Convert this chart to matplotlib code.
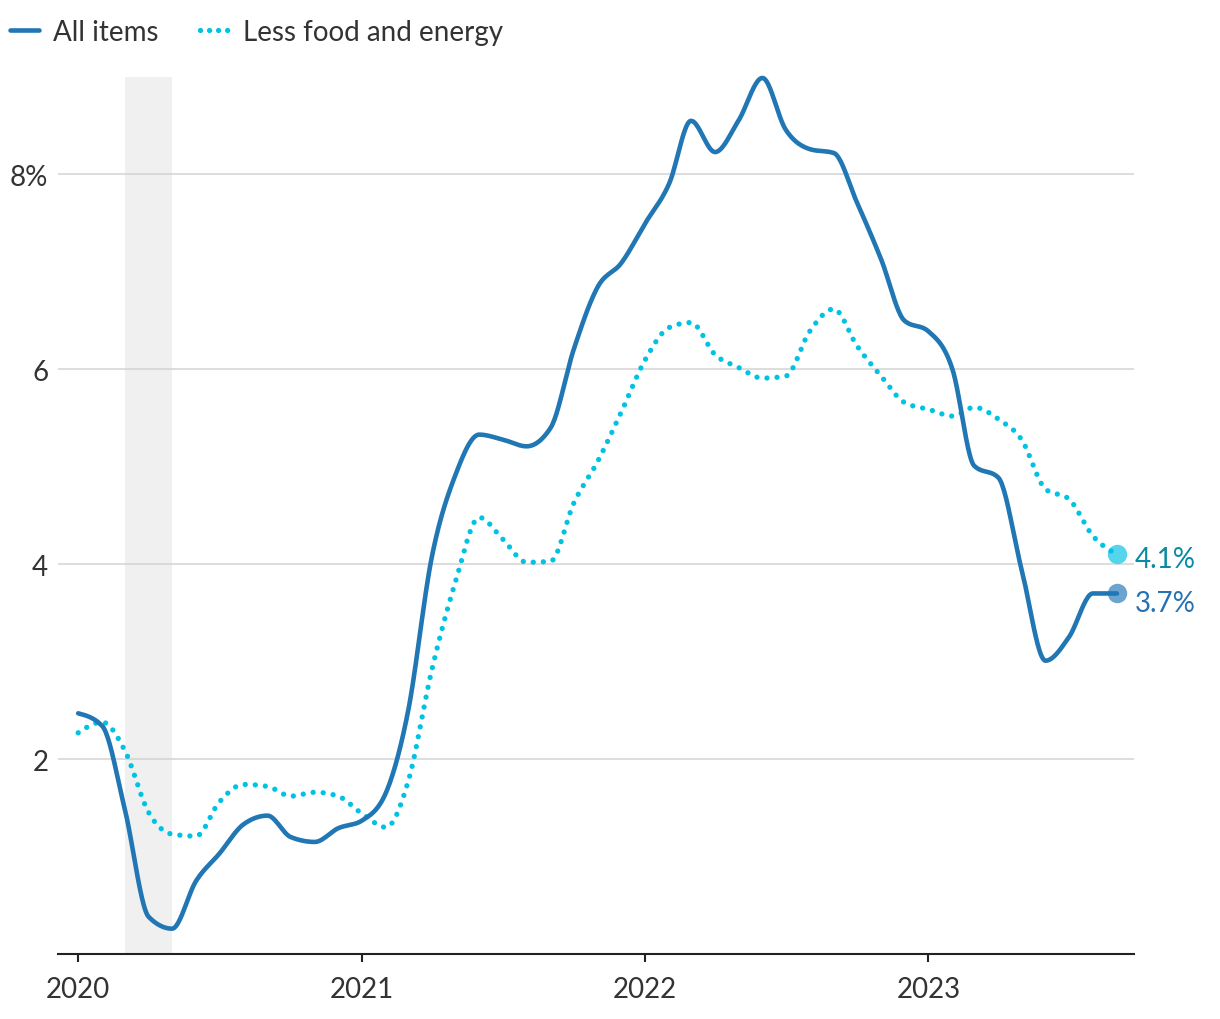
import matplotlib
matplotlib.use('Agg')  # no display
import matplotlib.pyplot as plt
import matplotlib.dates as mdates
from matplotlib.lines import Line2D
import numpy as np
import pandas as pd

plt.rcParams['font.family'] = ['Lato', 'DejaVu Sans']

# monthly 12-month % change, Jan 2020 - Sep 2023
months = pd.date_range('2020-01-01', '2023-09-01', freq='MS')
all_items = [2.47, 2.34, 1.49, 0.38, 0.26, 0.75, 1.03, 1.33, 1.42, 1.20, 1.15, 1.29,
             1.37, 1.66, 2.48, 4.08, 4.91, 5.33, 5.28, 5.21, 5.40, 6.21, 6.85, 7.09,
             7.50, 7.91, 8.55, 8.23, 8.55, 8.99, 8.46, 8.26, 8.22, 7.71, 7.13, 6.50,
             6.39, 6.00, 5.01, 4.89, 3.95, 3.01, 3.25, 3.70, 3.70]
core = [2.27, 2.38, 2.09, 1.45, 1.23, 1.21, 1.56, 1.74, 1.72, 1.62, 1.66, 1.62,
        1.44, 1.30, 1.76, 2.92, 3.81, 4.48, 4.26, 4.02, 4.03, 4.63, 5.06, 5.56,
        6.10, 6.43, 6.48, 6.15, 6.02, 5.91, 5.93, 6.39, 6.62, 6.24, 5.93, 5.66,
        5.59, 5.52, 5.61, 5.49, 5.28, 4.77, 4.67, 4.29, 4.10]
series_names = ['All items', 'Less food and energy']
recession = ['2020-03-01', '2020-05-01']
y_ticks = [2, 4, 6, 8]
y_labels = ['2', '4', '6', '8%']
year_ticks = pd.to_datetime(['2020-01-01', '2021-01-01', '2022-01-01', '2023-01-01'])

BLUE = '#2176b4'
CYAN = '#00c2e3'
FS = 20


def monotone_x(x, y, n=24):
    # monotone cubic interpolation (same idea as d3.curveMonotoneX)
    x = np.asarray(x, float)
    y = np.asarray(y, float)
    h = np.diff(x)
    s = np.diff(y) / h
    t = np.zeros_like(y)
    sgn = lambda v: -1.0 if v < 0 else 1.0
    for i in range(1, len(y) - 1):
        p = (s[i - 1] * h[i] + s[i] * h[i - 1]) / (h[i - 1] + h[i])
        t[i] = (sgn(s[i - 1]) + sgn(s[i])) * min(abs(s[i - 1]), abs(s[i]), 0.5 * abs(p))
    t[0] = (3 * s[0] - t[1]) / 2
    t[-1] = (3 * s[-1] - t[-2]) / 2
    xs, ys = [], []
    for i in range(len(h)):
        u = np.linspace(0, 1, n, endpoint=(i == len(h) - 1))
        h00 = 2 * u**3 - 3 * u**2 + 1
        h10 = u**3 - 2 * u**2 + u
        h01 = -2 * u**3 + 3 * u**2
        h11 = u**3 - u**2
        xs.append(x[i] + u * h[i])
        ys.append(h00 * y[i] + h10 * h[i] * t[i] + h01 * y[i + 1] + h11 * h[i] * t[i + 1])
    return np.concatenate(xs), np.concatenate(ys)


fig = plt.figure(figsize=(12.2, 10.2), dpi=100)
ax = fig.add_axes([58 / 1220, 65 / 1020, 1076 / 1220, 877 / 1020])

xnum = mdates.date2num(months)

ax.axvspan(pd.Timestamp(recession[0]), pd.Timestamp(recession[1]), color='#f0f0f0', zorder=0, lw=0)

xs, ys = monotone_x(xnum, all_items)
ax.plot(xs, ys, color=BLUE, lw=3.3, solid_capstyle='round', zorder=4, clip_on=False)
xs, ys = monotone_x(xnum, core)
ax.plot(xs, ys, color=CYAN, lw=3.8, linestyle=(0, (0.01, 1.9)), dash_capstyle='round',
        zorder=3, clip_on=False)

# end markers and value labels
ax.plot(xnum[-1], core[-1], 'o', ms=14, color='#55d5ec', mec='none', zorder=2, clip_on=False)
ax.plot(xnum[-1], all_items[-1], 'o', ms=14, color='#6ba3d1', mec='none', zorder=2, clip_on=False)
ax.annotate(f'{core[-1]:.1f}%', (xnum[-1], core[-1]), xytext=(13, -3), textcoords='offset points',
            ha='left', va='center', fontsize=FS, color='#0a8aa3', annotation_clip=False)
ax.annotate(f'{all_items[-1]:.1f}%', (xnum[-1], all_items[-1]), xytext=(13, -7), textcoords='offset points',
            ha='left', va='center', fontsize=FS, color='#2573b3', annotation_clip=False)

ax.set_xlim(pd.Timestamp('2019-12-06'), pd.Timestamp('2023-09-23'))
ax.set_ylim(0, 9)

ax.set_yticks(y_ticks)
ax.set_yticklabels(y_labels)
ax.set_xticks(year_ticks)
ax.set_xticklabels([str(d.year) for d in year_ticks])
ax.tick_params(axis='y', length=0, pad=7, labelsize=FS, labelcolor='#333333')
ax.tick_params(axis='x', length=6, width=1.5, color='#222222', pad=10, labelsize=FS, labelcolor='#333333')

ax.grid(axis='y', color='#d3d3d3', lw=1.1, zorder=1)
ax.set_axisbelow(True)
for side in ['top', 'left', 'right']:
    ax.spines[side].set_visible(False)
ax.spines['bottom'].set_color('#222222')
ax.spines['bottom'].set_linewidth(1.5)

handles = [Line2D([], [], color=BLUE, lw=3.3, solid_capstyle='round'),
           Line2D([], [], color=CYAN, lw=3.8, linestyle=(0, (0.01, 1.7)), dash_capstyle='round')]
fig.legend(handles, series_names, loc='upper left', bbox_to_anchor=(10 / 1220, 1 - 20 / 1020),
           ncol=2, frameon=False, fontsize=FS, handlelength=1.05, handletextpad=0.5,
           columnspacing=1.5, borderpad=0, borderaxespad=0, labelcolor='#333333')

plt.savefig('out.png', dpi=100)
print('saved out.png')
